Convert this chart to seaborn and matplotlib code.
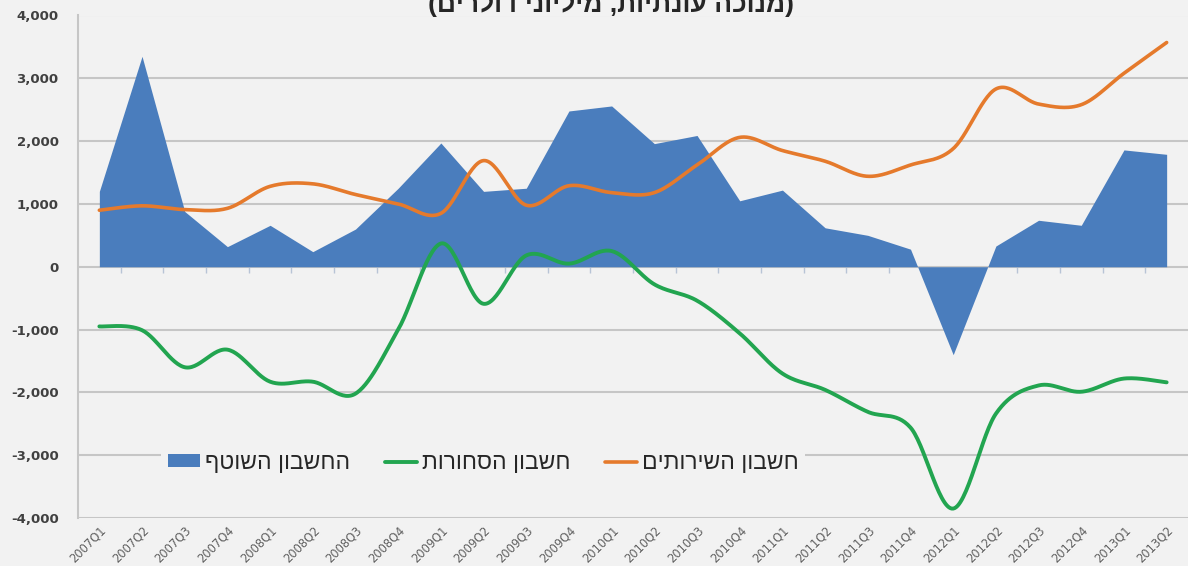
import numpy as np
import pandas as pd
import matplotlib
matplotlib.use("Agg")
import matplotlib.pyplot as plt
import seaborn as sns
from matplotlib.patches import Patch
from matplotlib.lines import Line2D
from matplotlib.ticker import FuncFormatter, FixedLocator, NullFormatter

# ---------------- data ----------------
quarters = ["2007Q1", "2007Q2", "2007Q3", "2007Q4", "2008Q1", "2008Q2", "2008Q3", "2008Q4",
            "2009Q1", "2009Q2", "2009Q3", "2009Q4", "2010Q1", "2010Q2", "2010Q3", "2010Q4",
            "2011Q1", "2011Q2", "2011Q3", "2011Q4", "2012Q1", "2012Q2", "2012Q3", "2012Q4",
            "2013Q1", "2013Q2"]
current_account = [1200, 3350, 880, 320, 660, 240, 600, 1250, 1970, 1200, 1250, 2480, 2560,
                   1960, 2090, 1050, 1220, 620, 500, 280, -1400, 330, 740, 660, 1860, 1790]
goods_account = [-950, -1010, -1600, -1320, -1830, -1830, -2020, -1000, 370, -590, 180, 50, 250,
                 -280, -540, -1060, -1700, -1960, -2310, -2560, -3850, -2340, -1890, -1990,
                 -1780, -1840]
services_account = [900, 970, 910, 930, 1280, 1320, 1150, 1000, 850, 1690, 980, 1290, 1180,
                    1180, 1620, 2060, 1850, 1680, 1440, 1620, 1880, 2830, 2590, 2580, 3080, 3570]
series_labels = ["החשבון השוטף", "חשבון הסחורות", "חשבון השירותים"]
title_text = "(מנוכה עונתיות, מיליוני דולרים)"
y_ticks = [-4000, -3000, -2000, -1000, 0, 1000, 2000, 3000, 4000]

# ---------------- helpers ----------------
MIRROR = {"(": ")", ")": "("}


def vis(s):
    """Logical RTL string -> visual order for matplotlib (no bidi support)."""
    return "".join(MIRROR.get(c, c) for c in s[::-1])


def smooth_curve(values, n=30):
    """Excel-style smoothed line (Catmull-Rom) through the given points."""
    y = np.asarray(values, float)
    x = np.arange(len(y), dtype=float)
    px = np.concatenate([[x[0]], x, [x[-1]]])
    py = np.concatenate([[y[0]], y, [y[-1]]])
    xs, ys = [], []
    t = np.linspace(0, 1, n, endpoint=False)
    for i in range(len(y) - 1):
        for arr, out in ((px, xs), (py, ys)):
            p0, p1, p2, p3 = arr[i], arr[i + 1], arr[i + 2], arr[i + 3]
            out.append(0.5 * ((2 * p1) + (-p0 + p2) * t + (2 * p0 - 5 * p1 + 4 * p2 - p3) * t ** 2
                              + (-p0 + 3 * p1 - 3 * p2 + p3) * t ** 3))
    xs.append([x[-1]])
    ys.append([y[-1]])
    return np.concatenate(xs), np.concatenate(ys)


# ---------------- style ----------------
sns.set_theme(style="white")
BG = "#f2f2f2"
plt.rcParams["font.family"] = ["Liberation Sans", "DejaVu Sans"]

BLUE = "#4a7dbd"
GREEN = "#22a550"
ORANGE = "#e57a2c"
GRID = "#c6c6c6"

fig = plt.figure(figsize=(11.88, 5.66), dpi=100, facecolor=BG)
ax = fig.add_axes([78 / 1188, 1 - 518 / 566, 1 - 78 / 1188, (518 - 15.5) / 566])
ax.set_facecolor(BG)

x = np.arange(len(quarters))
ax.fill_between(x, current_account, 0, color=BLUE, linewidth=0, zorder=2)

gx, gy = smooth_curve(goods_account)
sx, sy = smooth_curve(services_account)
sns.lineplot(x=gx, y=gy, ax=ax, color=GREEN, linewidth=2.8, sort=False, zorder=3)
sns.lineplot(x=sx, y=sy, ax=ax, color=ORANGE, linewidth=2.6, sort=False, zorder=4)

ax.set_xlim(-0.5, len(quarters) - 0.5)
ax.set_ylim(-4000, 4000)
ax.yaxis.set_major_locator(FixedLocator(y_ticks))
ax.yaxis.set_major_formatter(FuncFormatter(lambda v, p: f"{int(v):,}"))
ax.grid(axis="y", color=GRID, linewidth=1.5, zorder=0)
ax.set_axisbelow(True)

ax.set_xticks(x)
ax.set_xticklabels(quarters, rotation=45, ha="right", va="top", rotation_mode="anchor",
                   fontsize=8.3, color="#606060", family="DejaVu Sans")
ax.tick_params(axis="x", length=0, pad=4)
ax.tick_params(axis="y", length=6, width=1.2, color=GRID, pad=8, labelsize=9.5,
               labelcolor="#404040")
for lab in ax.get_yticklabels():
    lab.set_fontweight("bold")
    lab.set_family("DejaVu Sans")

for side in ["top", "right", "bottom"]:
    ax.spines[side].set_visible(False)
ax.spines["left"].set_color(GRID)
ax.spines["left"].set_linewidth(1.5)
ax.set_xlabel("")
ax.set_ylabel("")

# category-boundary tick marks on the zero line
zero_axis = ax.secondary_xaxis(0.5)
zero_axis.set_xticks(x[:-1] + 0.5)
zero_axis.xaxis.set_major_formatter(NullFormatter())
zero_axis.tick_params(axis="x", direction="in", length=4, width=1, color="#b8c4d6")
for sp in zero_axis.spines.values():
    sp.set_visible(False)
zero_axis.set_zorder(1)

handles = [
    Patch(facecolor=BLUE, edgecolor="none"),
    Line2D([0], [0], color=GREEN, linewidth=2.8),
    Line2D([0], [0], color=ORANGE, linewidth=2.6),
]
leg = ax.legend(handles, [vis(s) for s in series_labels], ncol=3, loc="center",
                bbox_to_anchor=(0.365, 0.111), frameon=True, facecolor=BG, edgecolor="none",
                framealpha=1, fontsize=16.5, handlelength=1.4, handleheight=0.45,
                handletextpad=0.22, columnspacing=1.5, borderpad=0.3)
leg.set_zorder(5)
for t in leg.get_texts():
    t.set_color("#262626")

fig.text(611 / 1188, 1 - 12 / 566, vis(title_text), ha="center", va="baseline",
         fontsize=19, fontweight="bold", color="#262626")

fig.savefig("out.png", dpi=100, facecolor=BG)
